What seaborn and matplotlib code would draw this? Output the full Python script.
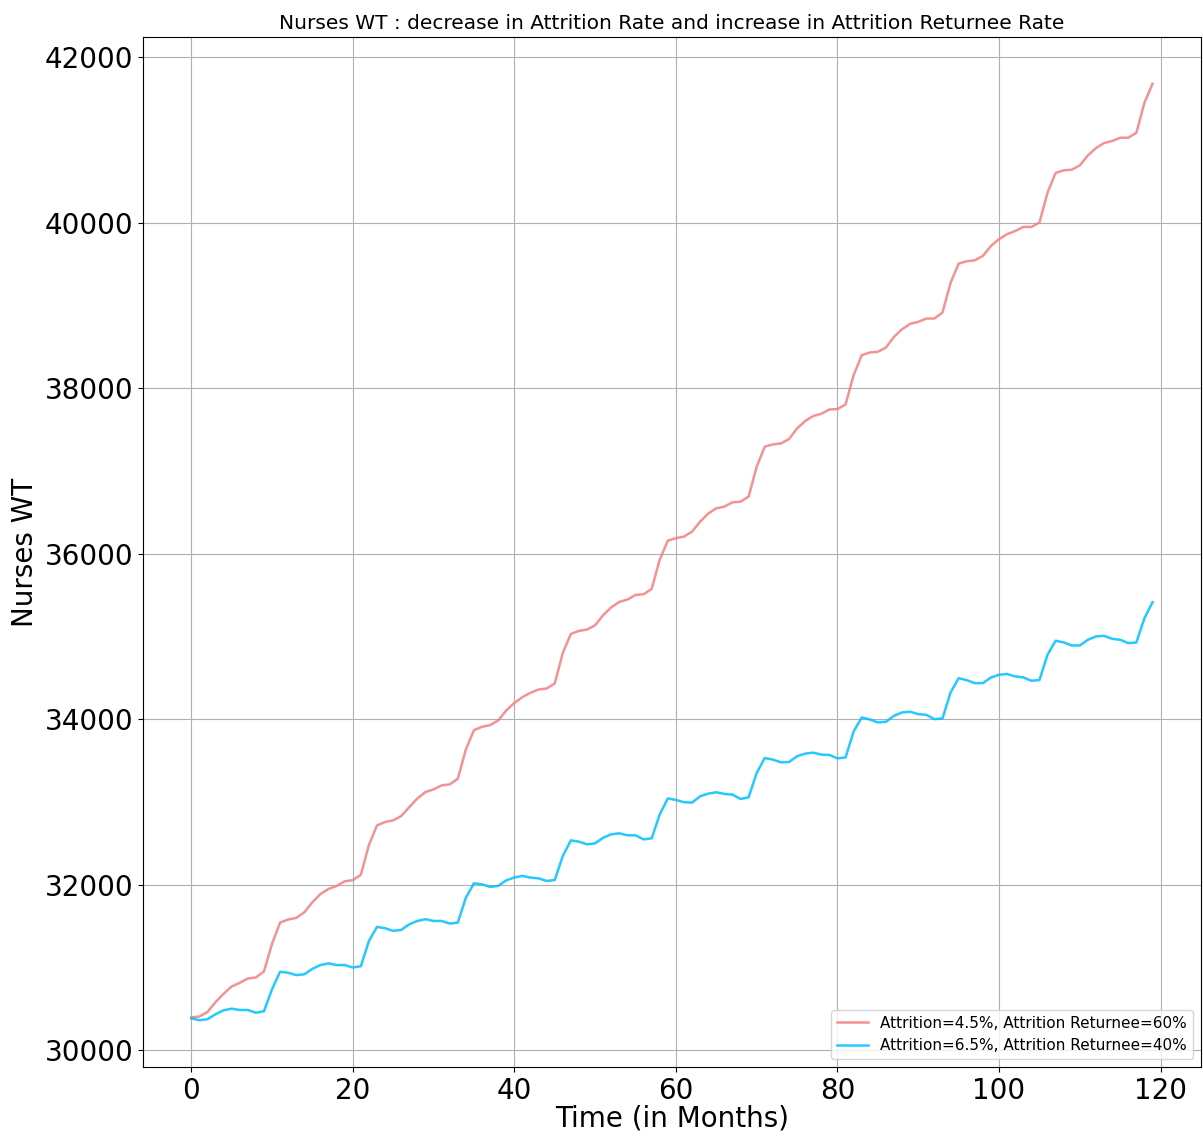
import numpy as np
import pandas as pd
import matplotlib
matplotlib.use("Agg")
import matplotlib.pyplot as plt
import seaborn as sns

months = list(range(120))

# Nurses working time, attrition 4.5% / returnee 60%
nurses_low_attrition = [
    30400, 30410, 30463, 30583, 30684, 30773, 30817, 30869, 30881, 30954,
    31288, 31545, 31582, 31602, 31670, 31791, 31891, 31952, 31988, 32044,
    32058, 32123, 32483, 32720, 32760, 32781, 32833, 32942, 33046, 33123,
    33155, 33203, 33215, 33284, 33638, 33871, 33911, 33932, 33988, 34109,
    34200, 34270, 34322, 34362, 34374, 34435, 34805, 35034, 35070, 35087,
    35139, 35260, 35356, 35421, 35449, 35505, 35513, 35577, 35932, 36161,
    36191, 36210, 36270, 36391, 36488, 36552, 36572, 36624, 36632, 36693,
    37055, 37297, 37324, 37336, 37389, 37517, 37606, 37667, 37694, 37746,
    37751, 37807, 38161, 38402, 38435, 38443, 38495, 38624, 38716, 38781,
    38805, 38845, 38845, 38918, 39276, 39509, 39537, 39549, 39602, 39722,
    39805, 39865, 39903, 39952, 39952, 40004, 40366, 40604, 40636, 40644,
    40696, 40817, 40905, 40966, 40990, 41030, 41030, 41090, 41453, 41682,
]

# Nurses working time, attrition 6.5% / returnee 40%
nurses_high_attrition = [
    30389, 30365, 30377, 30437, 30485, 30505, 30489, 30489, 30456, 30473,
    30739, 30951, 30939, 30911, 30920, 30987, 31032, 31052, 31032, 31032,
    31002, 31018, 31324, 31493, 31477, 31445, 31457, 31525, 31565, 31586,
    31565, 31565, 31533, 31545, 31847, 32020, 32008, 31976, 31988, 32056,
    32090, 32109, 32089, 32080, 32048, 32060, 32350, 32539, 32523, 32491,
    32503, 32571, 32612, 32624, 32600, 32600, 32551, 32563, 32853, 33046,
    33027, 33000, 32995, 33072, 33104, 33120, 33100, 33092, 33039, 33060,
    33353, 33534, 33515, 33482, 33486, 33555, 33587, 33599, 33575, 33571,
    33530, 33541, 33855, 34024, 34000, 33964, 33972, 34044, 34085, 34093,
    34064, 34056, 34004, 34012, 34326, 34499, 34475, 34439, 34439, 34507,
    34540, 34550, 34520, 34508, 34468, 34476, 34782, 34951, 34931, 34894,
    34894, 34963, 35003, 35011, 34975, 34963, 34922, 34930, 35224, 35417,
]

labels = [
    "Attrition=4.5%, Attrition Returnee=60%",
    "Attrition=6.5%, Attrition Returnee=40%",
]
colors = ["lightcoral", "deepskyblue"]

df = pd.DataFrame({
    "month": months * 2,
    "nurses": nurses_low_attrition + nurses_high_attrition,
    "scenario": [labels[0]] * len(months) + [labels[1]] * len(months),
})

fig = plt.figure(figsize=(12.03, 11.37), dpi=100)
ax = fig.add_axes([0.119, 0.0615, 0.879, 0.906])

sns.lineplot(data=df, x="month", y="nurses", hue="scenario",
             palette=colors, linewidth=1.8, alpha=0.85, ax=ax)

ax.grid(True, color="#b0b0b0", linewidth=0.8)
ax.set_axisbelow(True)
ax.set_title("Nurses WT : decrease in Attrition Rate and increase in Attrition Returnee Rate",
             fontsize=14.5, pad=6)
ax.set_xlabel("Time (in Months)", fontsize=20, labelpad=0)
ax.set_ylabel("Nurses WT", fontsize=20)
ax.tick_params(axis="both", labelsize=20)
ax.set_xticks([0, 20, 40, 60, 80, 100, 120])
ax.set_yticks([30000, 32000, 34000, 36000, 38000, 40000, 42000])

leg = ax.legend(loc="lower right", fontsize=11)
leg.set_title(None)

fig.savefig("out.png", dpi=100)
